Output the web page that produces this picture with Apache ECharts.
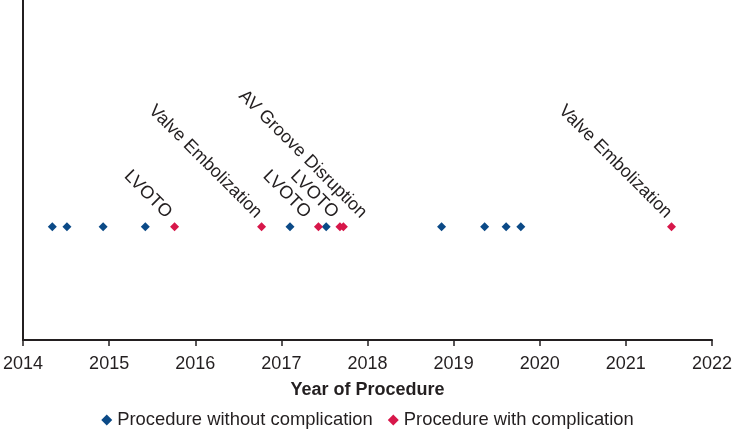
<!DOCTYPE html>
<html>
<head>
<meta charset="utf-8">
<script src="https://cdn.jsdelivr.net/npm/echarts@6/dist/echarts.min.js"></script>
<style>
html,body{margin:0;padding:0;background:#fff;}
#chart{width:735px;height:430px;}
</style>
</head>
<body>
<div id="chart"></div>
<script>
// ---- data ----
const xTicks = [2014, 2015, 2016, 2017, 2018, 2019, 2020, 2021, 2022];
const noCompYears = [2014.34, 2014.51, 2014.93, 2015.42, 2017.10, 2017.52, 2018.86, 2019.36, 2019.61, 2019.78];
const compYears = [2015.76, 2016.77, 2017.43, 2017.68, 2017.72, 2021.53];
const compLabels = ['LVOTO', 'Valve Embolization', 'LVOTO', 'LVOTO', 'AV Groove Disruption', 'Valve Embolization'];
const seriesNames = ['Procedure without complication', 'Procedure with complication'];
const axisTitle = 'Year of Procedure';

// ---- style ----
const BLUE = '#0b4a87';
const RED = '#d7174a';
const INK = '#231f20';
const FONT = '"Liberation Sans", Arial, Helvetica, sans-serif';
const ROW = 1;
// per-label horizontal nudges (px) to mimic manual label placement
const labelNudge = [-1, 2, -6, 0, 25, 2];

const chart = echarts.init(document.getElementById('chart'), null, {renderer: 'canvas'});

const compData = compYears.map((y, i) => ({
  value: [y, ROW],
  label: {
    show: true,
    formatter: compLabels[i],
    position: [4.5 - 11 + labelNudge[i], 4.5 - 5],
    align: 'right',
    verticalAlign: 'bottom',
    rotate: -45,
    color: INK,
    opacity: 1,
    fontFamily: FONT,
    fontSize: 18
  }
}));

chart.setOption({
  animation: false,
  backgroundColor: '#fff',
  grid: {left: 22, right: 22, top: 0, bottom: 90, containLabel: false},
  legend: {
    data: seriesNames.map(n => ({name: n, icon: 'diamond'})),
    top: 406,
    left: 'center',
    itemWidth: 11,
    itemHeight: 11,
    itemGap: 15,
    textStyle: {fontFamily: FONT, fontSize: 18.4, color: INK}
  },
  xAxis: {
    type: 'value',
    min: xTicks[0],
    max: xTicks[xTicks.length - 1],
    interval: 1,
    name: axisTitle,
    nameLocation: 'middle',
    nameGap: 41,
    nameTextStyle: {fontFamily: FONT, fontSize: 18, fontWeight: 'bold', color: INK},
    axisLine: {lineStyle: {color: INK, width: 2}},
    axisTick: {length: 6, lineStyle: {color: INK, width: 1.5}},
    axisLabel: {fontFamily: FONT, fontSize: 18, color: INK, margin: 15, formatter: v => String(v)},
    splitLine: {show: false}
  },
  yAxis: {
    type: 'value',
    min: 0,
    max: 3,
    axisLine: {show: true, lineStyle: {color: INK, width: 2}},
    axisTick: {show: false},
    axisLabel: {show: false},
    splitLine: {show: false}
  },
  series: [
    {
      name: seriesNames[0],
      type: 'scatter',
      symbol: 'diamond',
      symbolSize: 9,
      itemStyle: {color: BLUE, opacity: 1},
      data: noCompYears.map(y => [y, ROW])
    },
    {
      name: seriesNames[1],
      type: 'scatter',
      symbol: 'diamond',
      symbolSize: 9,
      itemStyle: {color: RED, opacity: 1},
      data: compData
    }
  ]
});
</script>
</body>
</html>
